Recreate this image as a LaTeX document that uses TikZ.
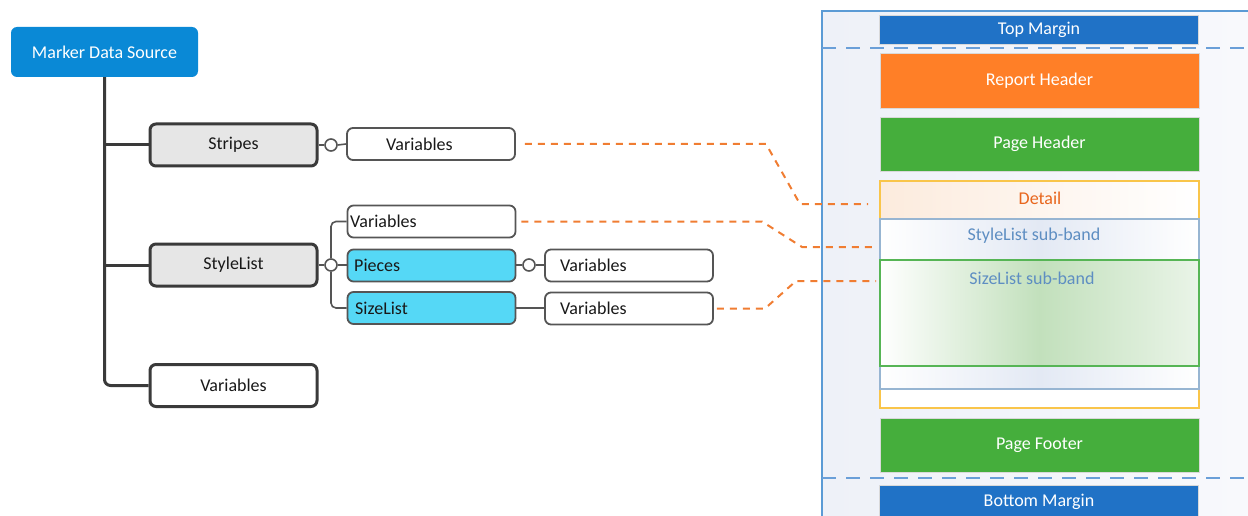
\documentclass[tikz,border=0pt]{standalone}
\usepackage{fontspec}
\setmainfont{Carlito}
\definecolor{mdsblue}{HTML}{0A89D6}
\definecolor{treegray}{HTML}{3A3A3A}
\definecolor{boxgray}{HTML}{555555}
\definecolor{lgray}{HTML}{E6E6E6}
\definecolor{cyanfill}{HTML}{55D8F6}
\definecolor{odash}{HTML}{F07D32}
\definecolor{bdash}{HTML}{6A9FD8}
\definecolor{pageline}{HTML}{5B9BD5}
\definecolor{pagebgl}{HTML}{EEF1F8}
\definecolor{pagebgr}{HTML}{F8F9FC}
\definecolor{mblue}{HTML}{2072C6}
\definecolor{rorange}{HTML}{FF7F27}
\definecolor{pgreen}{HTML}{45AE3C}
\definecolor{detline}{HTML}{F9C54A}
\definecolor{dettext}{HTML}{E8661D}
\definecolor{styleline}{HTML}{97B5D2}
\definecolor{subtext}{HTML}{5E8EC2}
\definecolor{sizeline}{HTML}{56B555}
\definecolor{sizemid}{HTML}{C2E0BC}
\definecolor{stylemid}{HTML}{E3E9F4}
\definecolor{peach}{HTML}{FCEBDD}
\begin{document}
\begin{tikzpicture}[x=1pt,y=-1pt,font=\fontsize{18}{20}\selectfont,
  tree/.style={draw=treegray,line width=3pt},
  thinline/.style={draw=boxgray,line width=1.6pt},
  bigbox/.style={draw=treegray,line width=3pt,rounded corners=6pt,fill=lgray,minimum width=167pt,minimum height=42pt,inner sep=0pt,text=black!90},
  smallbox/.style={draw=boxgray,line width=1.8pt,rounded corners=6pt,fill=white,minimum width=168pt,minimum height=32pt,inner sep=0pt},
  cyanbox/.style={smallbox,fill=cyanfill},
  ring/.style={circle,draw=boxgray,line width=1.6pt,fill=white,minimum size=12pt,inner sep=0pt},
  lbl/.style={anchor=west,inner sep=0pt,text=black!90},
  odashed/.style={draw=odash,line width=2pt,dash pattern=on 7pt off 6pt},
  bdashed/.style={draw=bdash,line width=2.2pt,dash pattern=on 14pt off 10pt},
  band/.style={draw=white!85!black,line width=0.6pt,minimum width=319pt,inner sep=0pt,text=white},
  bandtext/.style={inner sep=0pt}]
\useasboundingbox (0,0) rectangle (1248,516);
% ---------- right page ----------
\shade[left color=pagebgl,right color=pagebgr] (822,11) rectangle (1248,516);
\draw[pageline,line width=1.6pt] (822,520) -- (822,11) -- (1248,11);
\node[band,fill=mblue,minimum height=29pt] (tm) at (1039,29.5) {Top Margin};
\draw[bdashed] (822,48) -- (1248,48);
\node[band,fill=rorange,minimum height=55pt] (rh) at (1039.5,80.5) {Report Header};
\node[band,fill=pgreen,minimum height=54pt] (ph) at (1039.5,144) {Page Header};
% detail band
\shade[left color=peach,right color=white] (880,181) rectangle (1199,219);
\fill[white] (880,389) rectangle (1199,408);
\draw[detline,line width=1.6pt] (880,181) rectangle (1199,408);
\node[bandtext,text=dettext] (dt) at (1040,198) {Detail};
% stylelist sub-band
\shade[left color=white,right color=white,middle color=stylemid] (880,219) rectangle (1199,389);
\draw[styleline,line width=1.6pt] (880,219) rectangle (1199,389);
\node[bandtext,text=subtext] (st) at (1034,236) {StyleList sub-band};
% sizelist sub-band
\shade[left color=white,right color=sizemid!35!white,middle color=sizemid] (880,260) rectangle (1199,366);
\draw[sizeline,line width=1.6pt] (880,260) rectangle (1199,366);
\node[bandtext,text=subtext] (szt) at (1032,278) {SizeList sub-band};
\node[band,fill=pgreen,minimum height=54pt] (pf) at (1039.5,445) {Page Footer};
\draw[bdashed] (822,478) -- (1248,478);
\node[band,fill=mblue,minimum height=34pt,anchor=north] (bm) at (1039,485) {};
\node[text=white,inner sep=0pt] (bmt) at (1039,502) {Bottom Margin};
% ---------- tree ----------
\node[fill=mdsblue,rounded corners=6pt,minimum width=187pt,minimum height=50pt,text=white,inner sep=0pt] (mds) at (104.5,52) {Marker Data Source};
\node[bigbox] (stripes) at (233.5,145) {Stripes};
\node[bigbox] (stylelist) at (233.5,265) {StyleList};
\node[bigbox,fill=white] (v3) at (233.5,385.5) {Variables};
\draw[tree,rounded corners=6pt] (mds.south) |- (v3.west);
\draw[tree] (mds.south |- stripes.west) -- (stripes.west);
\draw[tree] (mds.south |- stylelist.west) -- (stylelist.west);
% stripes branch
\node[ring] (c1) at (331,145) {};
\node[smallbox] (v1) at (431,144) {};
\node[lbl] (v1t) at (386,144) {Variables};
\draw[thinline] (stripes.east) -- (c1.west);
\draw[thinline] (c1.east) -- (v1.west);
% stylelist branch
\node[ring] (c2) at (331,265) {};
\node[smallbox] (v2) at (431.5,221.5) {};
\node[lbl] (v2t) at (350,221.5) {Variables};
\node[cyanbox] (pieces) at (431.5,265.5) {};
\node[lbl] (pt) at (354,265.5) {Pieces};
\node[cyanbox] (sizelist) at (431.5,308) {};
\node[lbl] (slt) at (355,308) {SizeList};
\draw[thinline] (stylelist.east) -- (c2.west);
\draw[thinline] (c2.east) -- (c2.east -| pieces.west);
\draw[thinline,rounded corners=5pt] (c2.north) |- (v2.west);
\draw[thinline,rounded corners=5pt] (c2.south) |- (sizelist.west);
% pieces branch
\node[ring] (c3) at (529,265) {};
\node[smallbox] (v4) at (629,265.5) {};
\node[lbl] (v4t) at (560,265.5) {Variables};
\draw[thinline] (pieces.east |- c3.west) -- (c3.west);
\draw[thinline] (c3.east) -- (c3.east -| v4.west);
% sizelist branch
\node[smallbox] (v5) at (629,308.5) {};
\node[lbl] (v5t) at (560,308.5) {Variables};
\draw[thinline] (sizelist.east) -- (sizelist.east -| v5.west);
% ---------- orange dashed links ----------
\coordinate (e1) at (868,204);
\coordinate (e2) at (876,247);
\coordinate (e3) at (876,281);
\draw[odashed] ([xshift=9pt]v1.east) -- ([xshift=-102pt]e1 |- v1.east) -- ([xshift=-68pt]e1) -- (e1);
\draw[odashed] ([xshift=5pt]v2.east) -- ([xshift=-114pt]e2 |- v2.east) -- ([xshift=-74pt]e2) -- (e2);
\draw[odashed] ([xshift=3pt]v5.east) -- ([xshift=-111pt]e3 |- v5.east) -- ([xshift=-80pt]e3) -- (e3);
\end{tikzpicture}
\end{document}
